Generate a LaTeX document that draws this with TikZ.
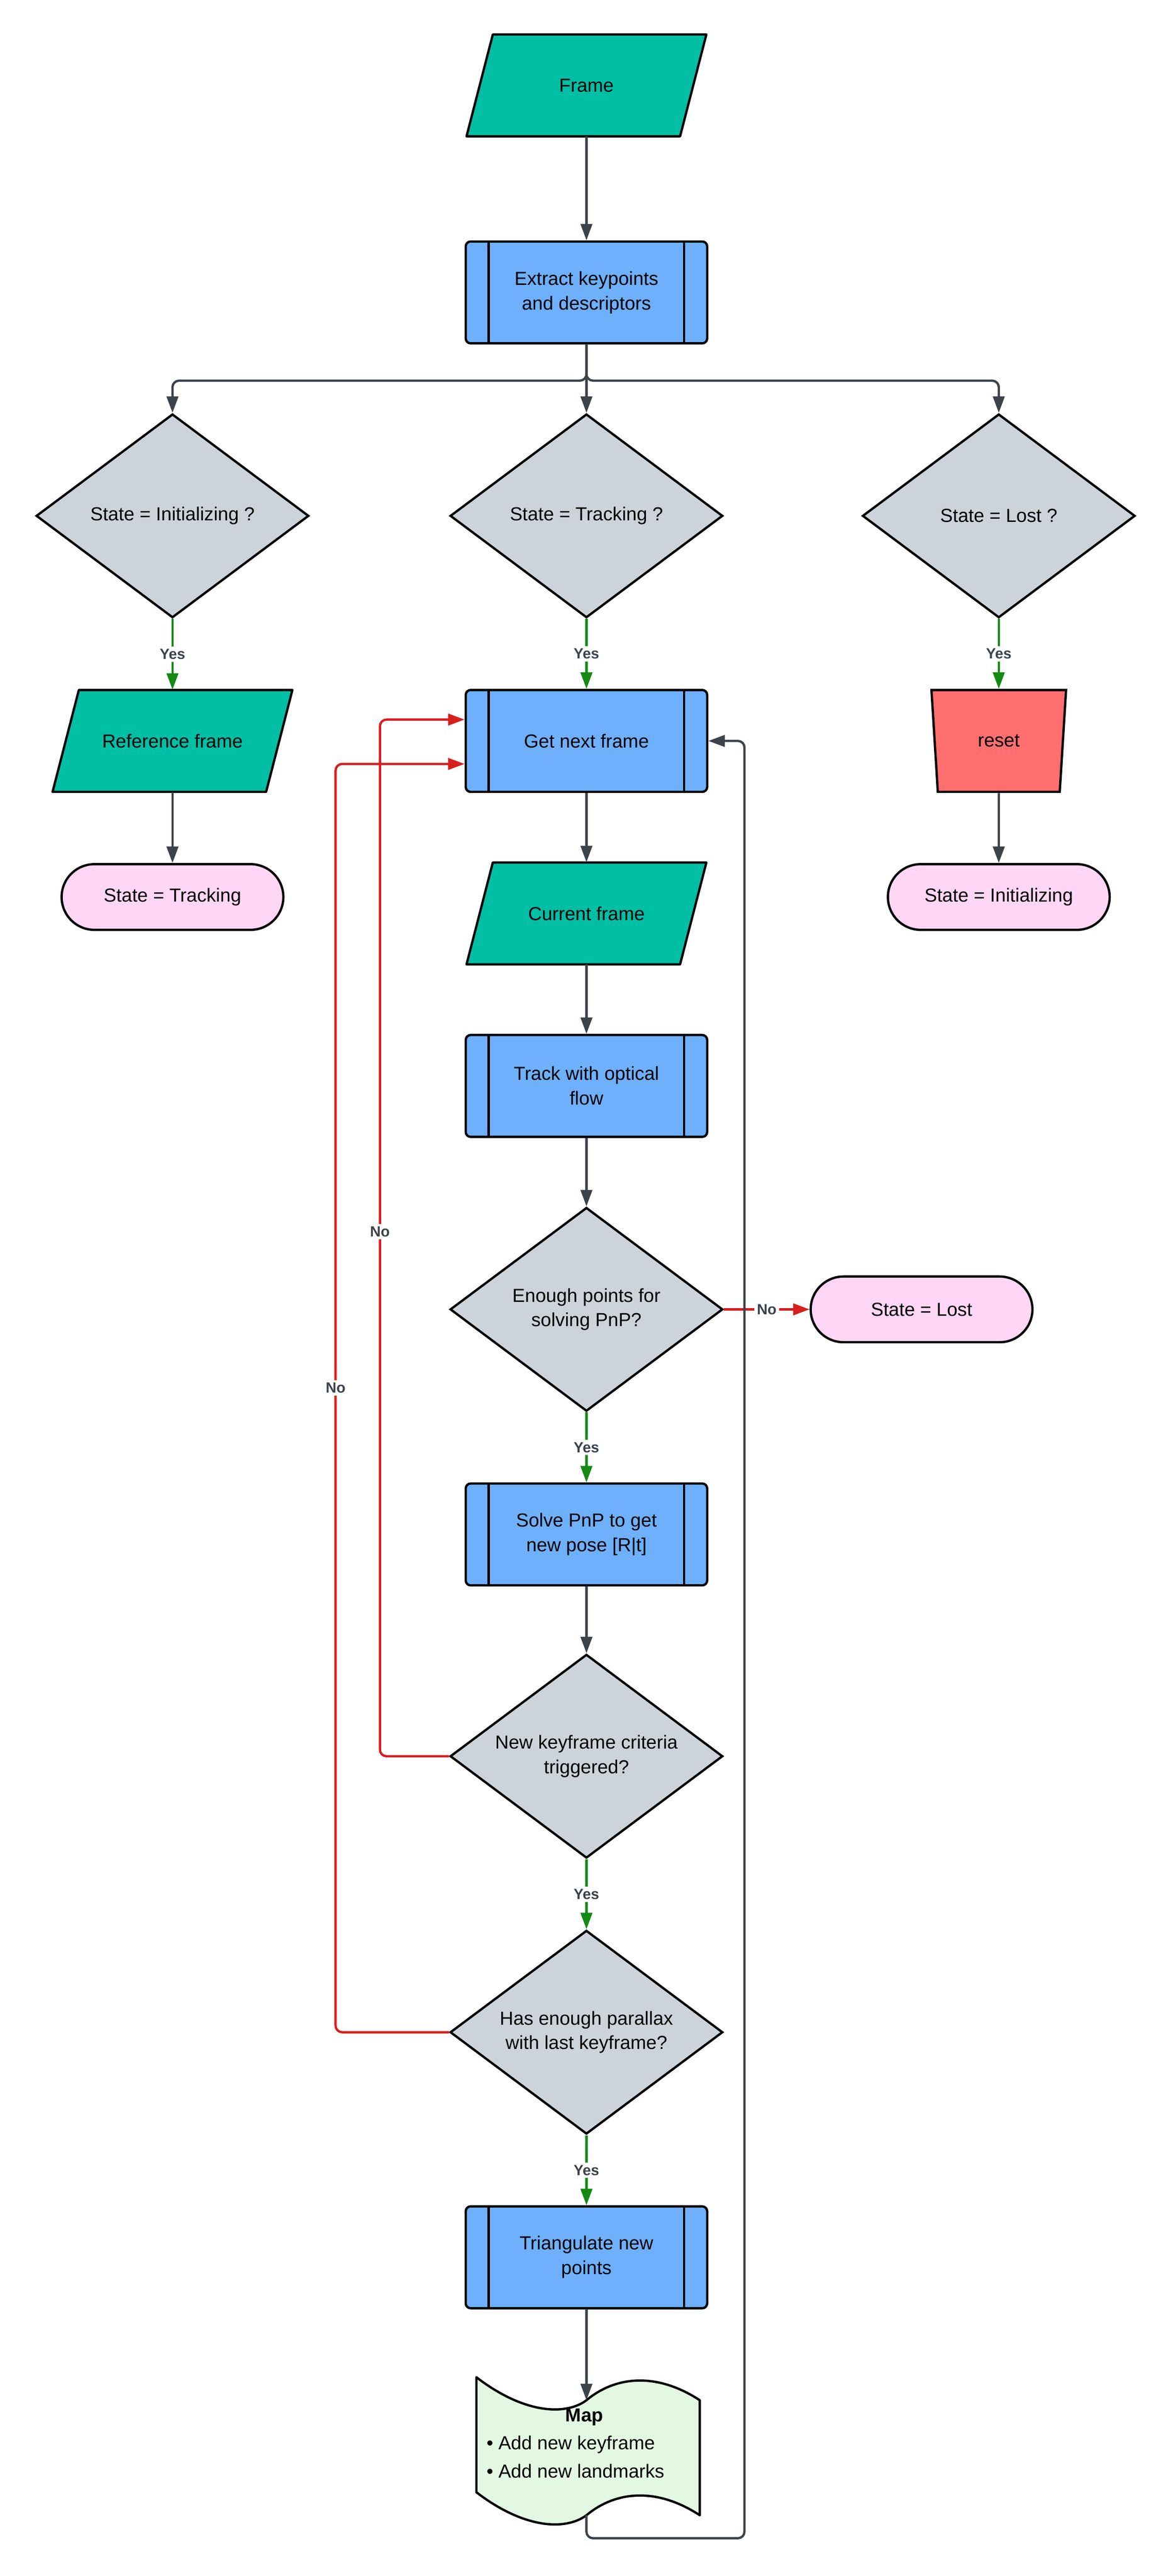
\documentclass[tikz,border=0pt]{standalone}
\usepackage{fontspec}
\setmainfont{Liberation Sans}
\usetikzlibrary{shapes.geometric, arrows.meta}

\definecolor{ioteal}{RGB}{0,191,165}
\definecolor{procblue}{RGB}{110,176,252}
\definecolor{decgray}{RGB}{205,211,219}
\definecolor{termpink}{RGB}{255,214,245}
\definecolor{resetred}{RGB}{255,111,111}
\definecolor{mapgreen}{RGB}{226,248,226}
\definecolor{flowgray}{RGB}{61,67,75}
\definecolor{nored}{RGB}{217,30,30}
\definecolor{yesgreen}{RGB}{19,138,19}

\tikzset{
  shape base/.style={draw=black, line width=1.4pt, font=\fontsize{11.5}{15}\selectfont, align=center, inner sep=0pt},
  proc/.style={shape base, rectangle, rounded corners=3pt, fill=procblue, minimum width=147pt, minimum height=62pt,
    path picture={
      \draw[line width=1.4pt] ([xshift=14pt]path picture bounding box.north west) -- ([xshift=14pt]path picture bounding box.south west);
      \draw[line width=1.4pt] ([xshift=-14pt]path picture bounding box.north east) -- ([xshift=-14pt]path picture bounding box.south east);}},
  dec/.style={shape base, diamond, aspect=1.34, fill=decgray, minimum width=166pt, minimum height=124pt},
  term/.style={shape base, rectangle, rounded corners=20pt, fill=termpink, minimum width=135pt, minimum height=40pt},
  io/.style={draw=black, line width=1.4pt, fill=ioteal, line join=round},
  txt/.style={font=\fontsize{11.5}{15}\selectfont, align=center, inner sep=0pt, minimum width=145pt, minimum height=62pt},
  flow/.style={draw=flowgray, line width=1.4pt, -{Triangle[length=10pt,width=7pt]}, rounded corners=4pt},
  yes/.style={flow, draw=yesgreen},
  no/.style={flow, draw=nored},
  lbl/.style={fill=white, inner sep=1.5pt, text=flowgray, font=\fontsize{9}{11}\selectfont\bfseries}
}

% slanted input/output box
\newcommand{\iobox}[4]{%
  \draw[io] ({#2-57},{#3-31}) -- ({#2+73},{#3-31}) -- ({#2+57},{#3+31}) -- ({#2-73},{#3+31}) -- cycle;
  \node[txt] (#1) at (#2,#3) {#4};}

\begin{document}
\begin{tikzpicture}[x=1pt,y=1pt,yscale=-1]
  \useasboundingbox (0,0) rectangle (714,1568);

  % top of the chart
  \iobox{frame}{357}{52}{Frame}
  \node[proc] (extract) at (357,178) {Extract keypoints\\and descriptors};

  % state checks
  \node[dec] (isinit) at (105,314) {State = Initializing ?};
  \node[dec] (istrack) at (357,314) {State = Tracking ?};
  \node[dec] (islost) at (608,314) {State = Lost ?};

  % initializing branch
  \iobox{ref}{105}{451}{Reference frame}
  \node[term] (settrack) at (105,546) {State = Tracking};

  % lost branch
  \node[shape base, trapezium, trapezium stretches=true, trapezium angle=80, shape border rotate=180,
        fill=resetred, minimum width=82pt, minimum height=62pt] (reset) at (608,451) {reset};
  \node[term] (setinit) at (608,546) {State = Initializing};

  % tracking branch
  \node[proc] (getnext) at (357,451) {Get next frame};
  \iobox{current}{357}{556}{Current frame}
  \node[proc] (optflow) at (357,661) {Track with optical\\flow};
  \node[dec] (enough) at (357,797) {Enough points for\\solving PnP?};
  \node[term] (setlost) at (561,797) {State = Lost};
  \node[proc] (pnp) at (357,934) {Solve PnP to get\\new pose [R|t]};
  \node[dec] (newkf) at (357,1069) {New keyframe criteria\\triggered?};
  \node[dec] (parallax) at (357,1237) {Has enough parallax\\with last keyframe?};
  \node[proc] (triang) at (357,1374) {Triangulate new\\points};

  % map (wavy document)
  \draw[draw=black, line width=1.4pt, fill=mapgreen, line join=round]
    (290,1447) .. controls (320,1470) and (345,1470) .. (357,1461)
    .. controls (375,1446) and (400,1444) .. (426,1461) -- (426,1531)
    .. controls (400,1514) and (375,1516) .. (357,1531)
    .. controls (345,1540) and (320,1540) .. (290,1517) -- cycle;
  \coordinate (maptop) at (357,1461);
  \coordinate (mapbot) at (357,1531);
  \node[font=\fontsize{11.5}{17}\selectfont, align=left, anchor=north west, inner sep=0pt] (map) at (296,1466)
    {\hspace*{48pt}\textbf{Map}\\\textbullet\ Add new keyframe\\\textbullet\ Add new landmarks};

  % connectors
  \draw[flow] (frame) -- (extract);
  \draw[flow] (extract.south) -- ++(0,22) -| (isinit.north);
  \draw[flow] (extract) -- (istrack);
  \draw[flow] (extract.south) -- ++(0,22) -| (islost.north);

  \draw[yes] (isinit) -- (ref) node[midway, lbl] {Yes};
  \draw[flow] (ref) -- (settrack);
  \draw[yes] (islost) -- (reset) node[midway, lbl] {Yes};
  \draw[flow] (reset) -- (setinit);

  \draw[yes] (istrack) -- (getnext) node[midway, lbl] {Yes};
  \draw[flow] (getnext) -- (current);
  \draw[flow] (current) -- (optflow);
  \draw[flow] (optflow) -- (enough);
  \draw[no] (enough) -- (setlost) node[midway, lbl] {No};
  \draw[yes] (enough) -- (pnp) node[midway, lbl] {Yes};
  \draw[flow] (pnp) -- (newkf);
  \draw[yes] (newkf) -- (parallax) node[midway, lbl] {Yes};
  \draw[yes] (parallax) -- (triang) node[midway, lbl] {Yes};
  \draw[flow] (triang) -- (maptop);

  % loops back to the next frame
  \draw[no] (newkf.west) -- ++(-42,0) |- ([yshift=-13pt]getnext.west) node[pos=0.253, lbl] {No};
  \draw[no] (parallax.west) -- ++(-69,0) |- ([yshift=14pt]getnext.west) node[pos=0.254, lbl] {No};
  \draw[flow] (mapbot) -- ++(0,14) -| ([xshift=22pt]getnext.east) -- (getnext.east);
\end{tikzpicture}
\end{document}
